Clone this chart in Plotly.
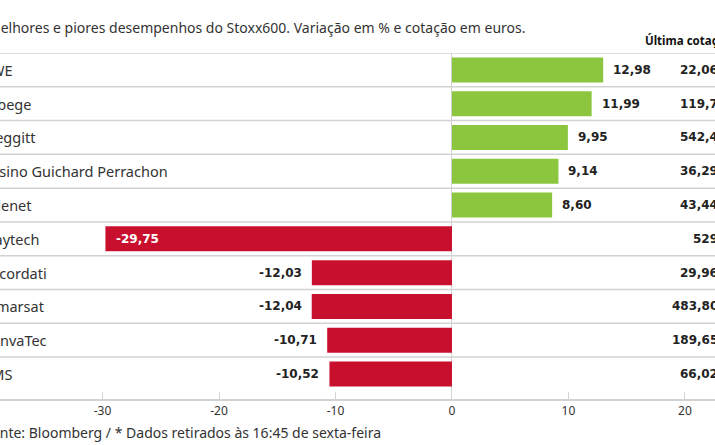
import plotly.graph_objects as go

# ---- data ----
empresas = ["RWE", "… bege", "Meggitt", "Casino Guichard Perrachon", "Telenet",
            "Playtech", "Recordati", "Inmarsat", "ConvaTec", "AMS"]
variacao = [12.98, 11.99, 9.95, 9.14, 8.60, -29.75, -12.03, -12.04, -10.71, -10.52]
cotacao = ["22,06", "119,7", "542,4", "36,29", "43,44", "529", "29,96", "483,80", "189,65", "66,02"]
tick_vals = [-30, -20, -10, 0, 10, 20]
tick_text = ["-30", "-20", "-10", "0", "10", "20"]

titulo = "Melhores e piores desempenhos do Stoxx600. Variação em % e cotação em euros."
cabecalho = "Última cotação*"
fonte = "Fonte: Bloomberg / * Dados retirados às 16:45 de sexta-feira"

GREEN = "#8cc63f"
RED = "#c8102e"
GRID = "#d2d2d2"
TXT = "#333333"
FONT = "Noto Sans"
NUMFONT = "DejaVu Sans"

def fmt(v):
    return f"{v:.2f}".replace(".", ",")

colors = [GREEN if v >= 0 else RED for v in variacao]

fig = go.Figure()
fig.add_trace(go.Bar(
    x=variacao, y=empresas, orientation="h",
    marker=dict(color=colors, line=dict(width=0)),
    width=0.74, hoverinfo="skip",
))

n = len(empresas)
shapes = []
for i in range(n):
    shapes.append(dict(type="line", xref="paper", yref="y", x0=-0.05, x1=1.05,
                       y0=i - 0.5, y1=i - 0.5, line=dict(color=GRID, width=1.5), layer="below"))

numfont = dict(family=NUMFONT, size=12, color="#222222", weight="bold")
annotations = []
for i, (name, v, c) in enumerate(zip(empresas, variacao, cotacao)):
    annotations.append(dict(xref="paper", yref="y", x=0, y=name, text=name,
                            xanchor="left", xshift=-20, showarrow=False,
                            font=dict(family=FONT, size=14.5, color=TXT)))
    annotations.append(dict(xref="paper", yref="y", x=1, y=name, text=c,
                            xanchor="right", xshift=5, showarrow=False, font=numfont))
    if v >= 0:
        annotations.append(dict(xref="x", yref="y", x=v, y=name, text=fmt(v),
                                xanchor="left", xshift=8, showarrow=False, font=numfont))
    elif abs(v) > 20:
        annotations.append(dict(xref="x", yref="y", x=v, y=name, text=fmt(v),
                                xanchor="left", xshift=9, showarrow=False,
                                font=dict(numfont, color="white")))
    else:
        annotations.append(dict(xref="x", yref="y", x=v, y=name, text=fmt(v),
                                xanchor="right", xshift=-8, showarrow=False, font=numfont))

annotations.append(dict(xref="paper", yref="paper", x=0, y=1, yshift=26, text=titulo,
                        xanchor="left", yanchor="middle", xshift=-14, showarrow=False,
                        font=dict(family=FONT, size=14, color=TXT)))
annotations.append(dict(xref="paper", yref="paper", x=1, y=1, yshift=13, text="<b>" + cabecalho + "</b>",
                        xanchor="left", yanchor="middle", xshift=-72, showarrow=False,
                        font=dict(family=FONT, size=11.5, color="#111111")))
annotations.append(dict(xref="paper", yref="paper", x=0, y=0, yshift=-33, text=fonte,
                        xanchor="left", yanchor="middle", xshift=-18, showarrow=False,
                        font=dict(family=FONT, size=14, color=TXT)))

fig.update_layout(
    width=715, height=445,
    margin=dict(l=0, r=0, t=53, b=46),
    paper_bgcolor="white", plot_bgcolor="white",
    showlegend=False,
    shapes=shapes, annotations=annotations,
    xaxis=dict(range=[-38.8, 22.58], tickvals=tick_vals, ticktext=tick_text,
               showgrid=False, zeroline=True, zerolinecolor=GRID, zerolinewidth=1,
               showline=True, linecolor=GRID, linewidth=2,
               ticks="inside", ticklen=7, tickcolor=GRID, tickwidth=1,
               tickfont=dict(family=FONT, size=12, color=TXT), fixedrange=True),
    yaxis=dict(categoryorder="array", categoryarray=empresas, range=[9.74, -0.5],
               showticklabels=False, showgrid=False, zeroline=False, showline=False,
               ticks="", fixedrange=True),
)

fig.write_html("out.html", config={"displayModeBar": False},
               post_script="document.body.style.margin='0';document.body.style.overflow='hidden';")
